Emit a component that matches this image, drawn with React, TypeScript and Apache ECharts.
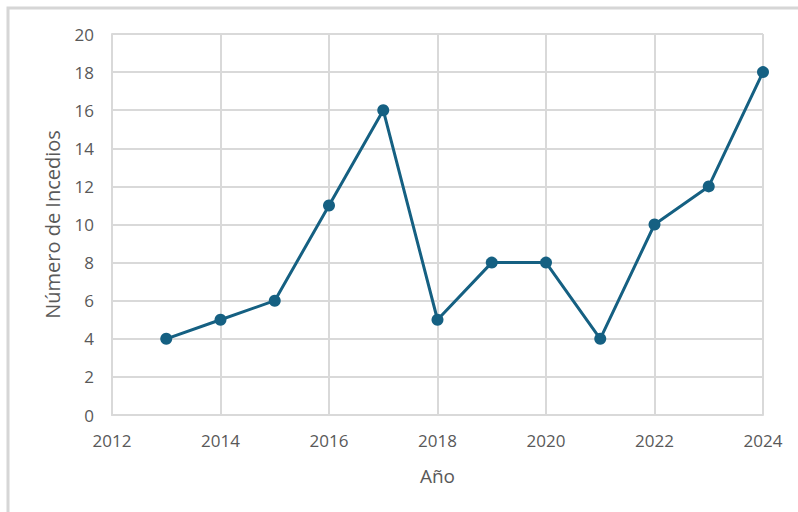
import React, { useEffect, useRef } from "react";
import * as echarts from "echarts";

const years = [2013, 2014, 2015, 2016, 2017, 2018, 2019, 2020, 2021, 2022, 2023, 2024];
const incendios = [4, 5, 6, 11, 16, 5, 8, 8, 4, 10, 12, 18];
const xAxisName = "Año";
const yAxisName = "Número de Incedios";

export default function App() {
  const ref = useRef<HTMLDivElement>(null);
  useEffect(() => {
    if (!ref.current) return;
    const chart = echarts.init(ref.current, undefined, { renderer: "svg" });
    const font = "'Open Sans', Arial, sans-serif";
    const labelColor = "#595959";
    const gridColor = "#d9d9d9";
    chart.setOption({
      animation: false,
      backgroundColor: "#ffffff",
      graphic: [
        {
          type: "rect",
          shape: { x: 8, y: 8, width: 900, height: 600 },
          style: { fill: "none", stroke: "#d6d6d6", lineWidth: 3 },
          silent: true,
        },
      ],
      grid: { left: 112, right: 35, top: 34, bottom: 97, containLabel: false },
      xAxis: {
        type: "value",
        min: 2012,
        max: 2024,
        interval: 2,
        name: xAxisName,
        nameLocation: "middle",
        nameGap: 51,
        nameTextStyle: { color: labelColor, fontSize: 19, fontFamily: font },
        axisLine: { show: true, lineStyle: { color: gridColor, width: 2 } },
        axisTick: { show: false },
        axisLabel: {
          color: labelColor,
          fontSize: 17,
          fontFamily: font,
          margin: 17,
          formatter: (v: number) => String(v),
        },
        splitLine: { show: true, lineStyle: { color: gridColor, width: 2 } },
      },
      yAxis: {
        type: "value",
        min: 0,
        max: 20,
        interval: 2,
        name: yAxisName,
        nameLocation: "middle",
        nameGap: 50,
        nameRotate: 90,
        nameTextStyle: { color: labelColor, fontSize: 20, fontFamily: font },
        axisLine: { show: true, lineStyle: { color: gridColor, width: 2 } },
        axisTick: { show: false },
        axisLabel: { color: labelColor, fontSize: 17, fontFamily: font, margin: 18 },
        splitLine: { show: true, lineStyle: { color: gridColor, width: 2 } },
      },
      series: [
        {
          type: "line",
          data: years.map((y, i) => [y, incendios[i]]),
          symbol: "circle",
          symbolSize: 12,
          lineStyle: { color: "#156082", width: 3 },
          itemStyle: { color: "#156082" },
        },
      ],
    });
    return () => chart.dispose();
  }, []);
  return (
    <div
      ref={ref}
      style={{ position: "fixed", left: 0, top: 0, width: 798, height: 512 }}
    />
  );
}
